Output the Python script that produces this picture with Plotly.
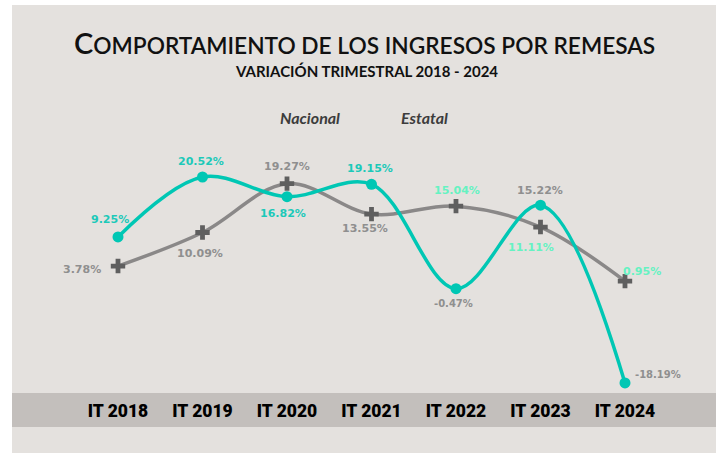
import plotly.graph_objects as go

categories = ["IT 2018", "IT 2019", "IT 2020", "IT 2021", "IT 2022", "IT 2023", "IT 2024"]
nacional = [3.78, 10.09, 19.27, 13.55, 15.04, 11.11, 0.95]
estatal = [9.25, 20.52, 16.82, 19.15, -0.47, 15.22, -18.19]

TEAL = "#00C7B4"
TEAL_LBL = "#1CC9B9"
GREY_LINE = "#8A8888"
GREY_MARK = "#5F5F5F"
GREY_LBL = "#8F8F8F"
MINT_LBL = "#66F2C2"
PANEL = "#E4E1DE"
BAND = "#C3BFBC"

# label styling per point: (x shift px, y shift px (down positive), colour, size)
nac_label_style = [(-36, 3, GREY_LBL, 11), (-3, 21, GREY_LBL, 11), (0, -17, GREY_LBL, 11),
                   (-7, 14, GREY_LBL, 11), (1, -16, MINT_LBL, 11), (-9, 20, MINT_LBL, 11),
                   (17, -10, MINT_LBL, 11)]
est_label_style = [(-8, -17, TEAL_LBL, 11), (-2, -16, TEAL_LBL, 11), (-4, 17, TEAL_LBL, 11),
                   (-2, -16, TEAL_LBL, 11), (-2, 15, GREY_LBL, 10), (0, -15, GREY_LBL, 11),
                   (33, -8, GREY_LBL, 10)]

xs = list(range(len(categories)))

def fmt(v):
    return f"{v:.2f}%"

fig = go.Figure()

fig.add_trace(go.Scatter(
    x=xs, y=nacional, name="Nacional", mode="lines+markers",
    line=dict(color=GREY_LINE, width=3.5, shape="spline"),
    marker=dict(symbol="cross", size=12, color=GREY_MARK),
    showlegend=False, cliponaxis=False,
))

fig.add_trace(go.Scatter(
    x=xs, y=estatal, name="Estatal", mode="lines+markers",
    line=dict(color=TEAL, width=3.5, shape="spline"),
    marker=dict(symbol="circle", size=11, color=TEAL),
    showlegend=False, cliponaxis=False,
))

annotations = []
for series, styles in ((nacional, nac_label_style), (estatal, est_label_style)):
    for xi, v, (dx, dy, col, sz) in zip(xs, series, styles):
        annotations.append(dict(
            x=xi, y=v, xref="x", yref="y", text=f"<b>{fmt(v)}</b>", showarrow=False,
            xanchor="center", yanchor="middle", xshift=dx, yshift=-dy,
            font=dict(family="DejaVu Sans", size=sz, color=col),
        ))

shapes = [
    dict(type="rect", xref="paper", yref="paper", x0=0, x1=1, y0=-0.1546, y1=1,
         fillcolor=PANEL, line=dict(width=0), layer="below"),
    dict(type="rect", xref="paper", yref="paper", x0=0, x1=1, y0=-0.0876, y1=0,
         fillcolor=BAND, line=dict(width=0), layer="below"),
]

annotations += [
    dict(text="<span style='font-size:29px'>C</span>OMPORTAMIENTO DE LOS INGRESOS POR REMESAS",
         xref="paper", yref="paper", x=0.5014, y=0.9046, showarrow=False,
         xanchor="center", yanchor="middle",
         font=dict(family="Lato", size=22.7, color="#111111", weight=600)),
    dict(text="<b>VARIACIÓN TRIMESTRAL 2018 - 2024</b>",
         xref="paper", yref="paper", x=0.504, y=0.8299, showarrow=False,
         xanchor="center", yanchor="middle",
         font=dict(family="Lato", size=15, color="#111111")),
    dict(text="<b><i>Nacional</i></b>",
         xref="paper", yref="paper", x=0.4233, y=0.7088, showarrow=False,
         xanchor="center", yanchor="middle",
         font=dict(family="Lato", size=16, color="#3C3C3C")),
    dict(text="<b><i>Estatal</i></b>",
         xref="paper", yref="paper", x=0.5866, y=0.7088, showarrow=False,
         xanchor="center", yanchor="middle",
         font=dict(family="Lato", size=16, color="#3C3C3C")),
]

fig.update_layout(
    width=719, height=453,
    margin=dict(l=12, r=3, t=5, b=60),
    paper_bgcolor="white",
    plot_bgcolor="rgba(0,0,0,0)",
    shapes=shapes,
    annotations=annotations,
    showlegend=False,
    xaxis=dict(
        tickmode="array", tickvals=xs, ticktext=categories,
        range=[-1.2544, 7.077], showgrid=False, zeroline=False, showline=False,
        ticks="", ticklabelstandoff=5,
        tickfont=dict(family="Roboto", size=17.5, color="#000000", weight=900),
    ),
    yaxis=dict(range=[-20.08, 52.85], visible=False, showgrid=False, zeroline=False),
)

fig.write_html("out.html")
